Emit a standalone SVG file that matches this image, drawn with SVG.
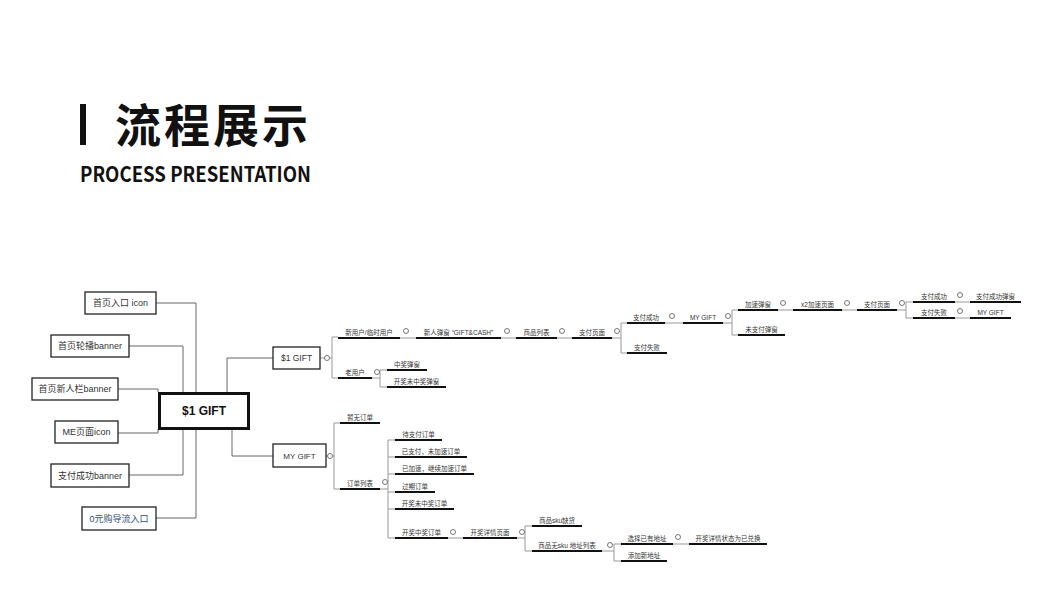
<svg xmlns="http://www.w3.org/2000/svg" width="1053" height="600" viewBox="0 0 1053 600">
<style>
.bg{fill:#ffffff}
.box{fill:#fff;stroke:#222;stroke-width:1.3}
.main{fill:#fff;stroke:#111;stroke-width:3}
.bt{font-family:"Liberation Sans","Noto Sans CJK SC",sans-serif;font-size:9px;fill:#333;text-anchor:middle}
.lk{fill:none;stroke:#666;stroke-width:1}
.thin{fill:none;stroke:#999;stroke-width:1}
.ul{stroke:#111;stroke-width:2}
.t{font-family:"Liberation Sans","Noto Sans CJK SC",sans-serif;font-size:6.5px;fill:#333;text-anchor:middle}
.c{fill:#fff;stroke:#555;stroke-width:0.8}
</style>
<rect class="bg" x="0" y="0" width="1053" height="600"/>
<g id="title">
<rect x="80" y="104" width="6" height="41" fill="#111"/>
<text x="115" y="142" font-family="'Noto Sans CJK SC',sans-serif" font-weight="bold" font-size="46" letter-spacing="3" fill="#111">流程展示</text>
<text x="80" y="182" font-family="'Noto Sans CJK SC','Noto Sans',sans-serif" font-weight="bold" font-size="21" fill="#111" textLength="231" lengthAdjust="spacingAndGlyphs">PROCESS PRESENTATION</text>
</g>
<g id="connectors">
<path class="lk" d="M156,303H196V392M129,346H183V392M118,389H158V392M118,433H158V429M129,475H183V429M156,518H196V429M227,392V358H273M232,429V456H273"/>
<path class="thin" d="M320,358H324.5M329.5,358H332M332,337V378M332,337H338M332,378H338"/>
<path class="thin" d="M400,338H416M501,338H516M557,338H572M612,338H621M621,323V353M621,323H627M621,353H627"/>
<path class="thin" d="M665,323H683M723,323H732M732,310V335M732,310H738M732,335H738M778,310H793M842,310H857M897,310H906M906,302V318M906,302H913M906,318H913M955,302H970M955,318H970"/>
<path class="thin" d="M372,378H380M380,370V387M380,370H387M380,387H387"/>
<path class="thin" d="M326,456H327.5M332.5,456H334M334,423V489M334,423H340M334,489H340M380,489H388M388,440V538M388,440H395M388,457H395M388,474H395M388,492H395M388,509H395M388,538H395"/>
<path class="thin" d="M448,538H463M517,538H525M525,526V551M525,526H532M525,551H532M602,551H614M614,544V561M614,544H621M614,561H621M673,544H689"/>
</g>
<g id="n-src1"><rect class="box" x="85" y="292" width="71" height="22"/><text class="bt" x="120.5" y="306.2">首页入口 icon</text></g>
<g id="n-src2"><rect class="box" x="51" y="335" width="78" height="22"/><text class="bt" x="90" y="349.2">首页轮播banner</text></g>
<g id="n-src3"><rect class="box" x="32" y="378" width="86" height="22"/><text class="bt" x="75" y="392.2">首页新人栏banner</text></g>
<g id="n-src4"><rect class="box" x="55" y="421" width="63" height="22"/><text class="bt" x="86.5" y="435.2">ME页面icon</text></g>
<g id="n-src5"><rect class="box" x="51" y="464" width="78" height="23"/><text class="bt" x="90" y="478.6">支付成功banner</text></g>
<g id="n-src6"><rect class="box" x="82" y="507" width="74" height="23"/><text class="bt" x="119" y="521.6" style="fill:#2f4d7e">0元购导流入口</text></g>
<g id="n-center"><rect class="main" x="159.5" y="393.5" width="89" height="35"/><text x="204" y="415.3" font-family="'Liberation Sans',sans-serif" font-weight="bold" font-size="12" fill="#111" text-anchor="middle">$1 GIFT</text></g>
<g id="n-gift"><rect class="box" x="273" y="347" width="47" height="22"/><text class="bt" x="296.5" y="361" style="font-size:8.5px">$1 GIFT</text><circle class="c" cx="327" cy="358" r="2.5"/></g>
<g id="n-mygift"><rect class="box" x="273" y="444" width="53" height="23"/><text class="bt" x="299.5" y="458.6" style="font-size:8px">MY GIFT</text><circle class="c" cx="330" cy="456" r="2.5"/></g>

<g id="n-new"><line class="ul" x1="338" y1="338" x2="400" y2="338"/><text class="t" x="369" y="334.5">新用户/临时用户</text><circle class="c" cx="406" cy="331" r="2.5"/></g>
<g id="n-popup"><line class="ul" x1="416" y1="338" x2="501" y2="338"/><text class="t" x="458.5" y="334.5">新人弹窗 “GIFT&amp;CASH”</text><circle class="c" cx="507" cy="331" r="2.5"/></g>
<g id="n-list"><line class="ul" x1="516" y1="338" x2="557" y2="338"/><text class="t" x="536.5" y="334.5">商品列表</text><circle class="c" cx="562" cy="331" r="2.5"/></g>
<g id="n-pay1"><line class="ul" x1="572" y1="338" x2="612" y2="338"/><text class="t" x="592" y="334.5">支付页面</text><circle class="c" cx="617" cy="331" r="2.5"/></g>
<g id="n-pay1ok"><line class="ul" x1="627" y1="323" x2="665" y2="323"/><text class="t" x="646" y="319.5">支付成功</text><circle class="c" cx="672" cy="316" r="2.5"/></g>
<g id="n-pay1fail"><line class="ul" x1="627" y1="353" x2="667" y2="353"/><text class="t" x="647" y="349.5">支付失败</text></g>
<g id="n-mygift2"><line class="ul" x1="683" y1="323" x2="723" y2="323"/><text class="t" x="703" y="319.5">MY GIFT</text><circle class="c" cx="728" cy="316" r="2.5"/></g>
<g id="n-speed"><line class="ul" x1="738" y1="310" x2="778" y2="310"/><text class="t" x="758" y="306.5">加速弹窗</text><circle class="c" cx="783" cy="303" r="2.5"/></g>
<g id="n-unpaid"><line class="ul" x1="738" y1="335" x2="785" y2="335"/><text class="t" x="761.5" y="331.5">未支付弹窗</text></g>
<g id="n-x2"><line class="ul" x1="793" y1="310" x2="842" y2="310"/><text class="t" x="817.5" y="306.5">x2加速页面</text><circle class="c" cx="847" cy="303" r="2.5"/></g>
<g id="n-pay2"><line class="ul" x1="857" y1="310" x2="897" y2="310"/><text class="t" x="877" y="306.5">支付页面</text><circle class="c" cx="902" cy="303" r="2.5"/></g>
<g id="n-pay2ok"><line class="ul" x1="913" y1="302" x2="955" y2="302"/><text class="t" x="934" y="298.5">支付成功</text><circle class="c" cx="960" cy="295" r="2.5"/></g>
<g id="n-okpop"><line class="ul" x1="970" y1="302" x2="1021" y2="302"/><text class="t" x="995.5" y="298.5">支付成功弹窗</text></g>
<g id="n-pay2fail"><line class="ul" x1="913" y1="318" x2="955" y2="318"/><text class="t" x="934" y="314.5">支付失败</text><circle class="c" cx="960" cy="311" r="2.5"/></g>
<g id="n-mygift3"><line class="ul" x1="970" y1="318" x2="1011" y2="318"/><text class="t" x="990.5" y="314.5">MY GIFT</text></g>

<g id="n-old"><line class="ul" x1="338" y1="378" x2="372" y2="378"/><text class="t" x="355" y="374.5">老用户</text><circle class="c" cx="377" cy="372" r="2.5"/></g>
<g id="n-win"><line class="ul" x1="387" y1="370" x2="427" y2="370"/><text class="t" x="407" y="366.5">中奖弹窗</text></g>
<g id="n-lose"><line class="ul" x1="387" y1="387" x2="446" y2="387"/><text class="t" x="416.5" y="383.5">开奖未中奖弹窗</text></g>

<g id="n-noorder"><line class="ul" x1="340" y1="423" x2="380" y2="423"/><text class="t" x="360" y="419.5">暂无订单</text></g>
<g id="n-orders"><line class="ul" x1="340" y1="489" x2="380" y2="489"/><text class="t" x="360" y="485.5">订单列表</text><circle class="c" cx="385" cy="482" r="2.5"/></g>
<g id="n-o1"><line class="ul" x1="395" y1="440" x2="442" y2="440"/><text class="t" x="418.5" y="436.5">待支付订单</text></g>
<g id="n-o2"><line class="ul" x1="395" y1="457" x2="467" y2="457"/><text class="t" x="431" y="453.5">已支付，未加速订单</text></g>
<g id="n-o3"><line class="ul" x1="395" y1="474" x2="474" y2="474"/><text class="t" x="434.5" y="470.5">已加速，继续加速订单</text></g>
<g id="n-o4"><line class="ul" x1="395" y1="492" x2="435" y2="492"/><text class="t" x="415" y="488.5">过期订单</text></g>
<g id="n-o5"><line class="ul" x1="395" y1="509" x2="454" y2="509"/><text class="t" x="424.5" y="505.5">开奖未中奖订单</text></g>
<g id="n-o6"><line class="ul" x1="395" y1="538" x2="448" y2="538"/><text class="t" x="421.5" y="534.5">开奖中奖订单</text><circle class="c" cx="453" cy="532" r="2.5"/></g>
<g id="n-detail"><line class="ul" x1="463" y1="538" x2="517" y2="538"/><text class="t" x="490" y="534.5">开奖详情页面</text><circle class="c" cx="522" cy="532" r="2.5"/></g>
<g id="n-sku0"><line class="ul" x1="532" y1="526" x2="582" y2="526"/><text class="t" x="557" y="522.5">商品sku缺货</text></g>
<g id="n-addr"><line class="ul" x1="532" y1="551" x2="602" y2="551"/><text class="t" x="567" y="547.5">商品无sku  地址列表</text><circle class="c" cx="610" cy="545" r="2.5"/></g>
<g id="n-pick"><line class="ul" x1="621" y1="544" x2="673" y2="544"/><text class="t" x="647" y="540.5">选择已有地址</text><circle class="c" cx="678" cy="537" r="2.5"/></g>
<g id="n-done"><line class="ul" x1="689" y1="544" x2="767" y2="544"/><text class="t" x="728" y="540.5">开奖详情状态为已兑换</text></g>
<g id="n-addnew"><line class="ul" x1="621" y1="561" x2="667" y2="561"/><text class="t" x="644" y="557.5">添加新地址</text></g>
</svg>
